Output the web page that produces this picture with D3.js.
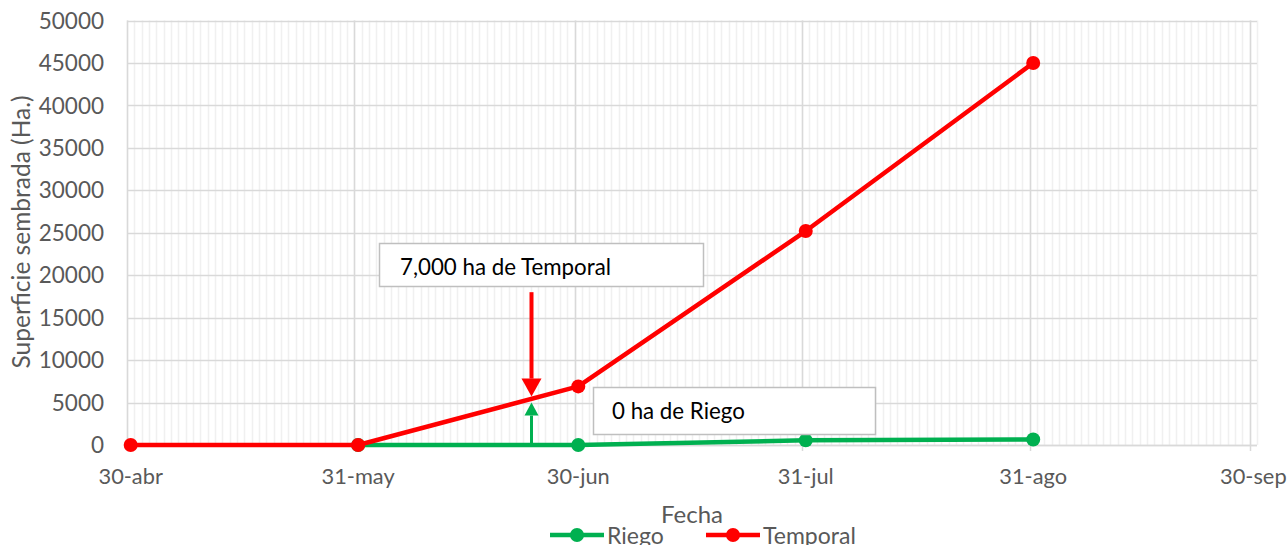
<!DOCTYPE html>
<html><head><meta charset="utf-8">
<script src="https://cdn.jsdelivr.net/npm/d3@7"></script>
<style>body{margin:0;background:#fff}svg{display:block}</style>
</head><body>
<svg id="c" width="1287" height="545"></svg>
<script>
const dates = ["2019-04-30","2019-05-31","2019-06-30","2019-07-31","2019-08-31"];
const riego = [0, 0, 0, 550, 650];
const temporal = [0, 0, 6900, 25200, 45000];
const majorTicks = ["2019-04-30","2019-05-31","2019-06-30","2019-07-31","2019-08-31","2019-09-30"];
const monthNames = ["ene","feb","mar","abr","may","jun","jul","ago","sep","oct","nov","dic"];
const yTicks = [0,5000,10000,15000,20000,25000,30000,35000,40000,45000,50000];
const seriesNames = ["Riego","Temporal"];
const seriesColors = ["#00b050","#ff0000"];
const annTemporal = {text:"7,000 ha de Temporal", date:"2019-06-24", from:18000, to:5700};
const annRiego = {text:"0 ha de Riego", date:"2019-06-24", from:0, to:5000};

const FONT = "Lato, 'Liberation Sans', sans-serif";
const svg = d3.select("#c");
const parse = d3.utcParse("%Y-%m-%d");
const DAY = 864e5;
const x = d3.scaleUtc().domain([parse("2019-04-30"), new Date(+parse("2019-09-30")+DAY)]).range([127,1257]);
const y = d3.scaleLinear().domain([0,50000]).range([445,20.5]);
const xc = s => x(new Date(+parse(s)+DAY/2));

// minor gridlines (days)
const days = d3.utcDay.range(parse("2019-04-30"), new Date(+parse("2019-09-30")+DAY*1.5));
svg.append("g").selectAll("line").data(days).join("line")
  .attr("x1",d=>Math.round(x(d))+0.5).attr("x2",d=>Math.round(x(d))+0.5)
  .attr("y1",y(50000)).attr("y2",y(0))
  .attr("stroke","#f0f0f0").attr("stroke-width",1.5);
// horizontal gridlines
svg.append("g").selectAll("line").data(yTicks).join("line")
  .attr("x1",x.range()[0]).attr("x2",x.range()[1])
  .attr("y1",d=>Math.round(y(d))+0.5).attr("y2",d=>Math.round(y(d))+0.5)
  .attr("stroke","#d9d9d9").attr("stroke-width",1.5);
// major vertical gridlines
svg.append("g").selectAll("line").data(majorTicks).join("line")
  .attr("x1",d=>Math.round(x(parse(d)))+0.5).attr("x2",d=>Math.round(x(parse(d)))+0.5)
  .attr("y1",y(50000)).attr("y2",y(0)+6)
  .attr("stroke","#d9d9d9").attr("stroke-width",1.5);
// bottom axis line
svg.append("line").attr("x1",x.range()[0]).attr("x2",x.range()[1])
  .attr("y1",Math.round(y(0))+0.5).attr("y2",Math.round(y(0))+0.5)
  .attr("stroke","#d9d9d9").attr("stroke-width",1.5);

// y tick labels
svg.append("g").selectAll("text").data(yTicks).join("text")
  .attr("x",104).attr("y",d=>y(d)).attr("dy","0.36em").attr("text-anchor","end")
  .attr("font-family",FONT).attr("font-size",22.5).attr("fill","#595959").text(d=>d);
// x tick labels
svg.append("g").selectAll("text").data(majorTicks).join("text")
  .attr("x",d=>xc(d)).attr("y",484).attr("text-anchor","middle")
  .attr("font-family",FONT).attr("font-size",21.8).attr("fill","#595959")
  .text(d=>{const t=parse(d);return t.getUTCDate()+"-"+monthNames[t.getUTCMonth()];});

// axis titles
svg.append("text").attr("transform","translate(30,232) rotate(-90)").attr("text-anchor","middle")
  .attr("font-family",FONT).attr("font-size",24.5).attr("fill","#595959").text("Superficie sembrada (Ha.)");
svg.append("text").attr("x",692).attr("y",523).attr("text-anchor","middle")
  .attr("font-family",FONT).attr("font-size",24).attr("fill","#595959").text("Fecha");

// series
const seriesData = [riego, temporal];
seriesData.forEach((vals,k)=>{
  const g = svg.append("g");
  let pts = vals.map((v,i)=>({v,i}));
  if(k===0) pts = pts.slice(1); // Riego line starts at 31-may
  g.append("path").datum(pts).attr("fill","none").attr("stroke",seriesColors[k])
    .attr("stroke-width",4.5).attr("stroke-linejoin","round")
    .attr("d",d3.line().x(p=>xc(dates[p.i])).y(p=>y(p.v)));
  g.selectAll("circle").data(pts).join("circle")
    .attr("cx",p=>xc(dates[p.i])).attr("cy",p=>y(p.v)).attr("r",7).attr("fill",seriesColors[k]);
});

// annotation arrows
function arrow(a,color,hw,hl){
  const ax = Math.round(x(parse(a.date)))+0.5, y1 = y(a.from), y2 = y(a.to);
  const dir = y2>y1?1:-1;
  svg.append("line").attr("x1",ax).attr("x2",ax).attr("y1",y1).attr("y2",y2-dir*hl)
    .attr("stroke",color).attr("stroke-width",dir>0?4:3);
  svg.append("path").attr("fill",color)
    .attr("d",`M${ax-hw},${y2-dir*hl}L${ax+hw},${y2-dir*hl}L${ax},${y2}Z`);
}
arrow(annTemporal,"#ff0000",10,18);
arrow(annRiego,"#00b050",7,13);

// annotation boxes
function box(a,bx,by,bw,bh,tx,ty){
  svg.append("rect").attr("x",bx+0.5).attr("y",by+0.5).attr("width",bw).attr("height",bh)
    .attr("fill","#fff").attr("stroke","#bfbfbf").attr("stroke-width",1.5);
  svg.append("text").attr("x",tx).attr("y",ty).attr("font-family",FONT).attr("font-size",22.3)
    .attr("fill","#000").text(a.text);
}
box(annTemporal,379,243,324,43,400,275);
box(annRiego,593,387,282,47,612,419);

// legend
const leg = [{x:550},{x:706}];
seriesNames.forEach((n,k)=>{
  const lx = leg[k].x, ly = 535;
  svg.append("line").attr("x1",lx).attr("x2",lx+54).attr("y1",ly).attr("y2",ly)
    .attr("stroke",seriesColors[k]).attr("stroke-width",4.5);
  svg.append("circle").attr("cx",lx+27).attr("cy",ly).attr("r",7).attr("fill",seriesColors[k]);
  svg.append("text").attr("x",lx+57).attr("y",ly+9).attr("font-family",FONT).attr("font-size",23)
    .attr("fill","#595959").text(n);
});
</script>
</body></html>
